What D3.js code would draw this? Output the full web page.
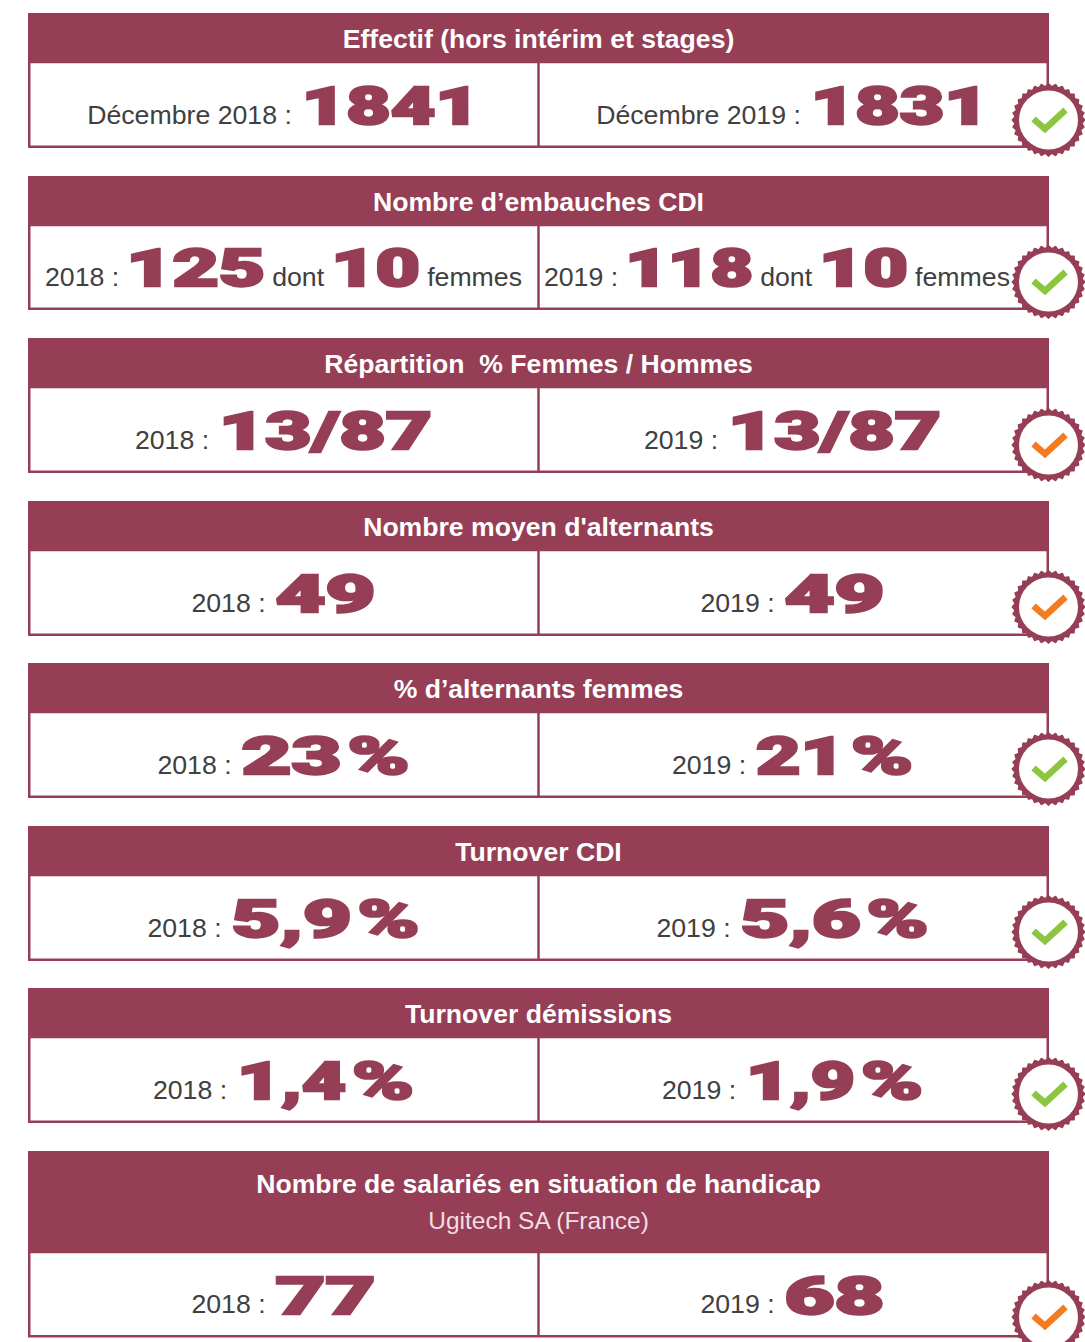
<!DOCTYPE html>
<html><head><meta charset="utf-8">
<script src="https://cdnjs.cloudflare.com/ajax/libs/d3/7.8.5/d3.min.js"></script>
<style>html,body{margin:0;padding:0;background:#fff}svg{display:block}</style>
</head><body><svg id="c" width="1085" height="1342"></svg>
<script>
const titles=["Effectif (hors intérim et stages)","Nombre d’embauches CDI","Répartition  % Femmes / Hommes","Nombre moyen d'alternants","% d’alternants femmes","Turnover CDI","Turnover démissions","Nombre de salariés en situation de handicap"];
const subtitles=["","","","","","","","Ugitech SA (France)"];
const labels2018=["Décembre 2018 :","2018 :","2018 :","2018 :","2018 :","2018 :","2018 :","2018 :"];
const labels2019=["Décembre 2019 :","2019 :","2019 :","2019 :","2019 :","2019 :","2019 :","2019 :"];
const values2018=["1841","125","13/87","49","23","5,9","1,4","77"];
const values2019=["1831","118","13/87","49","21","5,6","1,9","68"];
const women2018=[null,"10",null,null,null,null,null,null];
const women2019=[null,"10",null,null,null,null,null,null];
const units=["","","","","%","%","%",""];
const status=["good","good","neutral","neutral","good","good","good","neutral"];
const statusColor={good:"#8cc63f",neutral:"#f47b20"};

const wine="#953e56", FONT="'Liberation Sans',Arial,sans-serif", HEAVY="Roboto,'Liberation Sans',sans-serif";
const tops=[13,176,338,501,663,826,988,1151];
const headH=[50,50,50,50,50,50,50,102];
const bodyH=[85,84,85,85,85,85,85,84.5];
const badgeY=[120,282,445,607,769,932,1094,1317];
const L=28,R=1049,M=538.5;
const svg=d3.select("#c");
const NUM=52;
const glyphWidth=ch=>ch==="1"?39:ch===","?20:ch==="/"?24:ch==="%"?62:50;

const row=svg.selectAll("g.row").data(titles).join("g").attr("class","row");
row.each(function(t,i){
  const g=d3.select(this),y=tops[i],h=headH[i],b=bodyH[i];
  g.append("rect").attr("x",L+1.25).attr("y",y+h-1).attr("width",R-L-2.5).attr("height",b-.25)
    .attr("fill","#fff").attr("stroke",wine).attr("stroke-width",2.5);
  g.append("line").attr("x1",M).attr("x2",M).attr("y1",y+h).attr("y2",y+h+b-1).attr("stroke",wine).attr("stroke-width",2.5);
  g.append("rect").attr("x",L).attr("y",y).attr("width",R-L).attr("height",h).attr("fill",wine);
  g.append("text").attr("x",M).attr("y",subtitles[i]?y+42:y+35).attr("text-anchor","middle")
    .attr("font-family",FONT).attr("font-weight",700).attr("font-size",26.6).attr("fill","#fff").style("white-space","pre").text(t);
  if(subtitles[i]) g.append("text").attr("x",M).attr("y",y+78).attr("text-anchor","middle")
    .attr("font-family",FONT).attr("font-size",24.5).attr("fill","#f1dfe4").text(subtitles[i]);

  const cell=(cx,label,val,w,unit)=>{
    const base=y+h+b-23;
    const toks=[{s:label,k:"l"},{s:val,k:"n"}];
    if(w) toks.push({s:"dont",k:"l"},{s:w,k:"n"},{s:"femmes",k:"l"});
    if(unit) toks.push({s:unit,k:"u"});
    const cg=g.append("g");
    let x=0,prev=null;
    const gap=w?7:10;
    toks.forEach(tk=>{
      const te=cg.append("text").attr("y",0).text(tk.s);
      let wd,sx=1,dy=0;
      if(tk.k==="l"){
        te.attr("font-family",FONT).attr("font-size",26.7).attr("fill","#404040");
        wd=te.node().getComputedTextLength(); dy=-1.5;
      }else{
        te.attr("font-family",HEAVY).attr("font-size",NUM).attr("font-weight",900).attr("fill",wine).attr("stroke",wine).attr("stroke-width",2.4);
        wd=d3.sum([...tk.s],glyphWidth);
        sx=wd/te.node().getComputedTextLength(); dy=-1;
      }
      if(prev) x+= tk.k==="u"?6:gap;
      te.attr("transform",`translate(${x},${base+dy}) scale(${sx},1)`);
      x+=wd; prev=tk;
    });
    let c=cx-x/2;
    if(w && cx>M) c=Math.min(c,1010-x);
    cg.attr("transform",`translate(${c},0)`);
  };
  cell(283.5,labels2018[i],values2018[i],women2018[i],units[i]);
  cell(792.5,labels2019[i],values2019[i],women2019[i],units[i]);
});

// badges
const teeth=32;
const rad=d3.scaleLinear().domain([0,1]).range([34.5,37]);
const pts=d3.range(teeth*2).map(k=>[k*Math.PI/teeth,rad(k%2?0:1)]);
const edge=d3.lineRadial().curve(d3.curveCardinalClosed.tension(.4));
const check=d3.line();
const badge=svg.selectAll("g.badge").data(status).join("g").attr("class","badge")
  .attr("transform",(d,i)=>`translate(1048.5,${badgeY[i]})`);
badge.append("path").attr("d",edge(pts)).attr("fill",wine);
badge.append("circle").attr("r",29.5).attr("fill","#fff");
badge.append("path").attr("d",check([[-15,-1],[-3.5,9],[17,-10]])).attr("fill","none")
  .attr("stroke",d=>statusColor[d]).attr("stroke-width",6.5);
</script></body></html>
